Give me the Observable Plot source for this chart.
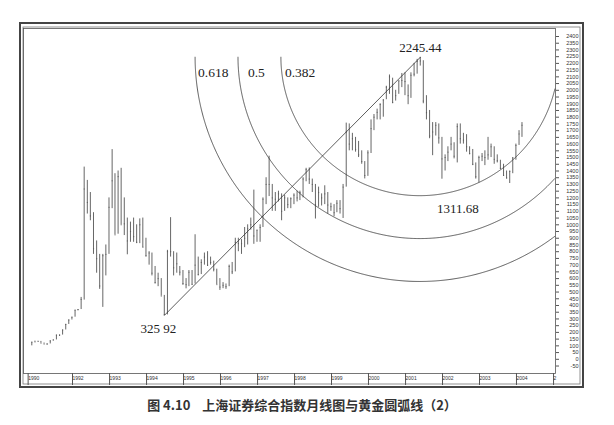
<!DOCTYPE html>
<html><head><meta charset="utf-8">
<script src="https://cdn.jsdelivr.net/npm/d3@7"></script>
<script src="https://cdn.jsdelivr.net/npm/@observablehq/plot@0.6"></script>
<style>
body{margin:0;background:#fff;}
#cap{font-family:"Noto Sans CJK SC",sans-serif;font-weight:bold;font-size:13px;color:#333;text-align:center;width:604px;height:33px;line-height:26px;}
</style></head><body><div id="chart"></div><div id="cap">图 4.10&nbsp;&nbsp;&nbsp;&nbsp;上海证券综合指数月线图与黄金圆弧线（2）</div>
<script>
const startMonth = "1990-12";
const highs = [127,
 135,134,133,121,115,137,144,180,181,218,260,293,
 313,365,370,460,1429,1330,1240,1090,880,780,780,850,
 1200,1559,1380,1400,1420,1200,1050,1020,1050,1000,1044,1050,
 900,800,790,690,640,600,475,810,1053,800,790,690,
 660,600,660,660,926,760,740,790,800,760,730,670,
 600,570,560,700,720,900,900,890,980,1000,1050,1258,
 960,1000,1200,1350,1510,1300,1240,1250,1230,1220,1200,1200,
 1230,1250,1250,1350,1420,1423,1340,1300,1280,1230,1290,1240,
 1160,1150,1180,1180,1300,1756,1750,1680,1650,1620,1550,1470,
 1550,1780,1820,1860,1900,1930,2030,2114,2090,2000,2070,2125,
 2130,2040,2130,2200,2230,2245.44,2220,1960,1850,1760,1760,1750,
 1650,1520,1580,1650,1610,1750,1750,1680,1670,1580,1560,1460,
 1510,1530,1550,1650,1600,1580,1520,1480,1450,1400,1400,1500,
 1600,1700,1760];
const lows = [100,
 127,129,120,113,105,114,136,144,170,180,218,259,
 292,313,360,370,440,1080,1030,780,640,520,386,620,
 780,1120,925,930,1000,920,777,870,870,860,860,830,
 760,700,620,560,540,470,326,330,760,620,640,620,
 550,524,540,550,560,620,630,700,690,700,650,555,
 512,525,520,540,630,650,800,780,830,850,960,855,
 870,870,980,1150,1210,1100,1100,1170,1030,1100,1120,1120,
 1150,1170,1180,1200,1320,1300,1240,1043,1130,1140,1150,1080,
 1100,1060,1090,1080,1047,1280,1550,1550,1540,1500,1450,1341,
 1360,1530,1700,1780,1780,1800,1930,1970,1900,1920,1970,2020,
 1960,1893,1940,2100,2120,2180,1900,1780,1640,1514,1660,1600,
 1339,1400,1470,1550,1490,1460,1600,1600,1540,1520,1440,1340,
 1311.68,1470,1440,1480,1500,1450,1460,1410,1360,1340,1307,1380,
 1480,1590,1650];
const closes = [127,
 129,133,120,113,114,137,144,180,180,218,259,292,
 313,365,370,445,1266,1166,1066,822,748,545,770,780,
 1130,1327,925,1358,1000,1007,880,950,912,870,1000,833,
 770,790,640,570,600,470,333,800,800,680,710,648,
 563,555,647,557,700,630,720,760,700,720,670,555,
 537,550,540,690,650,870,860,860,900,970,1000,917,
 960,980,1190,1300,1300,1200,1190,1230,1100,1200,1150,1194,
 1220,1200,1240,1340,1410,1340,1300,1150,1240,1200,1230,1147,
 1135,1090,1160,1120,1280,1690,1600,1640,1560,1520,1470,1367,
 1535,1715,1800,1836,1894,1928,2023,2100,1910,1960,2070,2073,
 2065,1960,2112,2120,2214,2218,1920,1834,1660,1690,1740,1646,
 1490,1500,1540,1600,1510,1730,1640,1630,1580,1530,1450,1357,
 1500,1510,1500,1520,1580,1487,1476,1420,1367,1348,1397,1497,
 1590,1675,1740];
const xTickDates = ["1990-10-20","1992-01-01","1993-01-01","1994-01-01","1995-01-01","1996-01-01","1997-01-01","1998-01-01","1999-01-01","2000-01-01","2001-01-01","2002-01-01","2003-01-01","2004-01-01","2005-01-01"];
const xTickLabels = ["1990","1992","1993","1994","1995","1996","1997","1998","1999","2000","2001","2002","2003","2004","2"];
const yTicks = [2400,2350,2300,2250,2200,2150,2100,2050,2000,1950,1900,1850,1800,1750,1700,1650,1600,1550,1500,1450,1400,1350,1300,1250,1200,1150,1100,1050,1000,950,900,850,800,750,700,650,600,550,500,450,400,350,300,250,200,150,100,50,0,-50];
const fibRatios = [0.618, 0.5, 0.382];
const fibLabels = ["0.618", "0.5", "0.382"];
const lowPoint = {month: "1994-07", value: 325.92, label: "325 92"};
const highPoint = {month: "2001-06", value: 2245.44, label: "2245.44"};
const arcLowPoint = {month: "2003-01", value: 1311.68, label: "1311.68"};

const toDate = m => { const [y, mo] = m.split("-").map(Number); return new Date(y, mo - 1, 15); };
const parseDay = s => { const [y, mo, d] = s.split("-").map(Number); return new Date(y, mo - 1, d); };
const [sy, sm] = startMonth.split("-").map(Number);
const data = highs.map((h, i) => ({
  date: new Date(sy, sm - 1 + i, 15),
  dateEnd: new Date(sy, sm - 1 + i, 26),
  high: h, low: lows[i], close: closes[i]
}));
const tickDates = xTickDates.map(parseDay);
const labelMap = new Map(tickDates.map((d, i) => [+d, xTickLabels[i]]));
const pts = [lowPoint, highPoint].map(p => ({date: toDate(p.month), value: p.value}));

function borderMark(index, scales, values, dim) {
  const g = d3.create("svg:g").attr("fill", "none");
  g.append("rect").attr("x", 20).attr("y", 23).attr("width", dim.width - 20 - 31).attr("height", dim.height - 23 - 5)
    .attr("stroke", "#444").attr("stroke-width", 2);
  g.append("rect").attr("x", 23).attr("y", 27).attr("width", dim.width - 23 - 34).attr("height", dim.height - 27 - 8)
    .attr("stroke", "#777").attr("stroke-width", 0.8);
  return g.node();
}

const labelDx = [3, 10, 4];
function arcsMark(index, scales, values, dim) {
  const {x, y} = scales;
  const g = d3.create("svg:g");
  const cx = x(toDate(highPoint.month)), cy = y(highPoint.value);
  const lx = x(toDate(lowPoint.month)), ly = y(lowPoint.value);
  const dist = Math.hypot(cx - lx, cy - ly);
  const left = dim.marginLeft, right = dim.width - dim.marginRight;
  fibRatios.forEach((r, i) => {
    const R = r * dist;
    const p = d3.range(0, 721).map(k => [cx + R * Math.cos(Math.PI * k / 720), cy + R * Math.sin(Math.PI * k / 720)])
      .filter(q => q[0] >= left && q[0] <= right);
    g.append("path").attr("d", d3.line()(p)).attr("fill", "none").attr("stroke", "#333").attr("stroke-width", 0.8);
    g.append("text").attr("x", cx - R + labelDx[i]).attr("y", cy + 20).attr("text-anchor", "start")
      .attr("font-family", "Liberation Serif").attr("font-size", 13.5).attr("fill", "#222").text(fibLabels[i]);
  });
  return g.node();
}

const plot = Plot.plot({
  width: 614, height: 392,
  marginLeft: 23, marginRight: 59, marginTop: 28, marginBottom: 19,
  x: {type: "time", domain: [new Date(1990, 8, 24), new Date(2005, 1, 9)]},
  y: {domain: [-105.6, 2459.5]},
  style: {background: "white", fontFamily: "Liberation Sans"},
  marks: [
    borderMark,
    Plot.frame({stroke: "#555", strokeWidth: 0.8}),
    Plot.axisX(tickDates, {tickFormat: d => labelMap.get(+d), tickSize: 12, tickPadding: -9, textAnchor: "start", dx: 2, fontSize: 5, fill: "#333", stroke: "#555", label: null}),
    Plot.axisY(yTicks, {anchor: "right", tickFormat: d => String(d), tickSize: 3, tickPadding: 20, textAnchor: "end", fontSize: 5.5, fill: "#333", stroke: "#555", label: null}),
    Plot.ruleX(data, {x: "date", y1: "low", y2: "high", stroke: "#555", strokeWidth: 0.9}),
    Plot.ruleY(data, {y: "close", x1: "date", x2: "dateEnd", stroke: "#555", strokeWidth: 0.8}),
    Plot.line(pts, {x: "date", y: "value", stroke: "#333", strokeWidth: 0.8}),
    arcsMark,
    Plot.text([highPoint], {x: d => toDate(d.month), y: "value", text: "label", dy: -9, fontFamily: "Liberation Serif", fontSize: 13, fill: "#222"}),
    Plot.text([lowPoint], {x: d => toDate(d.month), y: "value", text: "label", dx: -6, dy: 13, fontFamily: "Liberation Serif", fontSize: 13, fill: "#222"}),
    Plot.text([arcLowPoint], {x: d => toDate(d.month), y: "value", text: "label", dx: -21, dy: 26, fontFamily: "Liberation Serif", fontSize: 13, fill: "#222"})
  ]
});
document.getElementById("chart").appendChild(plot);
</script>
</body></html>
